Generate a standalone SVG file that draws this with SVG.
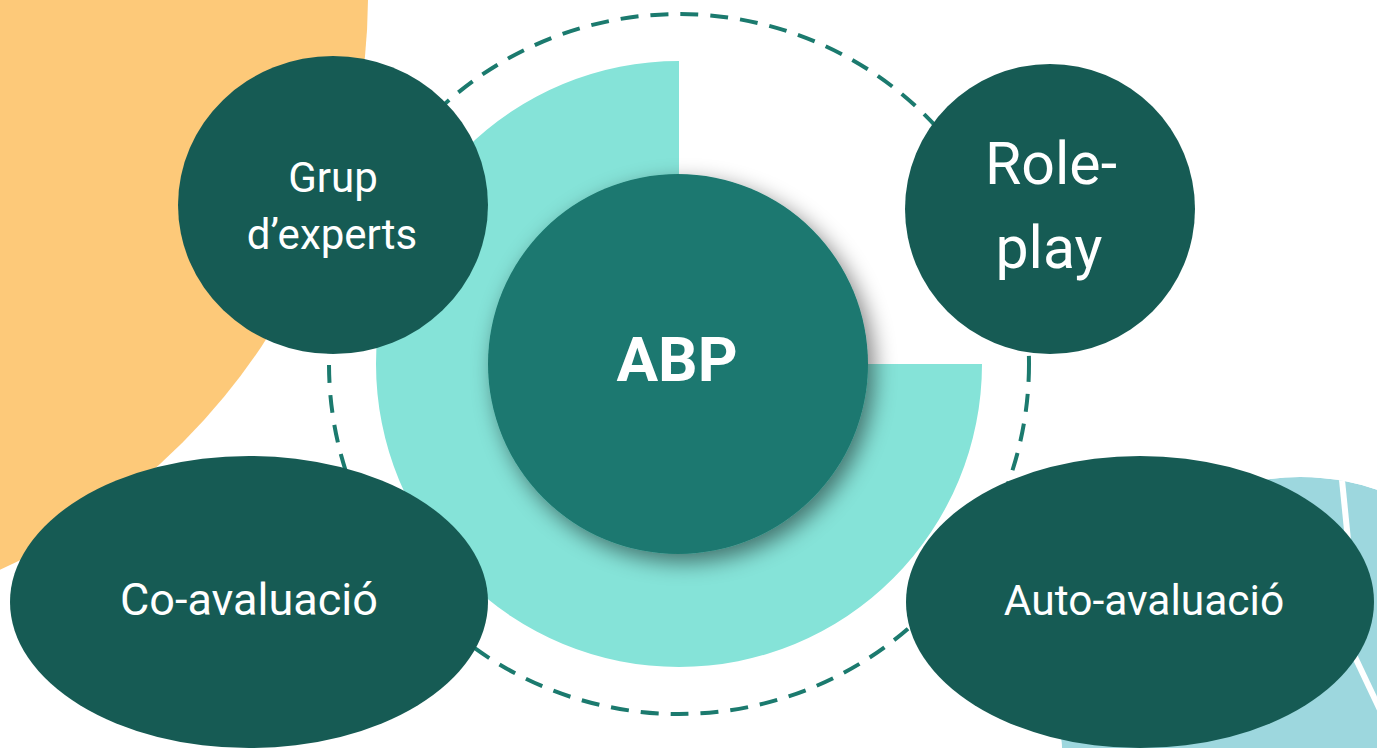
<svg xmlns="http://www.w3.org/2000/svg" width="1377" height="748" viewBox="0 0 1377 748">
  <defs>
    <filter id="shadow" x="-30%" y="-30%" width="160%" height="160%">
      <feGaussianBlur in="SourceAlpha" stdDeviation="11"/>
      <feOffset dx="6" dy="8" result="b"/>
      <feComponentTransfer><feFuncA type="linear" slope="0.5"/></feComponentTransfer>
      <feMerge><feMergeNode/><feMergeNode in="SourceGraphic"/></feMerge>
    </filter>
    <clipPath id="blueClip"><circle cx="1300" cy="717" r="240"/></clipPath>
  </defs>
  <style>
    .node { fill: #165B54; }
    .lbl { fill: #FFFFFF; font-family: Roboto, "Liberation Sans", sans-serif; text-anchor: middle; }
    .dash { fill: none; stroke: #1B7A6E; stroke-width: 4; stroke-dasharray: 18 12; }
  </style>
  <rect width="1377" height="748" fill="#FFFFFF"/>
  <!-- decorative background -->
  <circle cx="-265" cy="-5" r="633" fill="#FDC979"/>
  <g clip-path="url(#blueClip)">
    <circle cx="1300" cy="717" r="240" fill="#9DD7DE"/>
    <line x1="1341" y1="470" x2="1351" y2="570" stroke="#FFFFFF" stroke-width="6"/>
    <line x1="1328" y1="600" x2="1398" y2="748" stroke="#FFFFFF" stroke-width="6"/>
  </g>
  <g id="connectors">
    <circle class="dash" cx="679" cy="364" r="350"/>
  </g>
  <path id="ring" d="M679,364 L679,61 A303,303 0 1,0 982,364 Z" fill="#85E3D8"/>
  <g id="abp">
    <circle cx="678" cy="364" r="190" fill="#1B786F" filter="url(#shadow)"/>
    <text class="lbl" x="677" y="381" font-size="62" font-weight="bold">ABP</text>
  </g>
  <g id="grup">
    <ellipse class="node" cx="333" cy="205" rx="155" ry="149"/>
    <text class="lbl" x="333" y="192" font-size="42">Grup</text>
    <text class="lbl" x="332" y="249" font-size="42">d’experts</text>
  </g>
  <g id="roleplay">
    <circle class="node" cx="1050" cy="209" r="145"/>
    <text class="lbl" x="1051" y="184" font-size="59">Role-</text>
    <text class="lbl" x="1049" y="268" font-size="59">play</text>
  </g>
  <g id="coavaluacio">
    <ellipse class="node" cx="249" cy="602" rx="239" ry="146"/>
    <text class="lbl" x="249" y="615" font-size="45">Co-avaluació</text>
  </g>
  <g id="autoavaluacio">
    <ellipse class="node" cx="1140" cy="602" rx="234" ry="146"/>
    <text class="lbl" x="1144" y="615" font-size="42.5">Auto-avaluació</text>
  </g>
</svg>
